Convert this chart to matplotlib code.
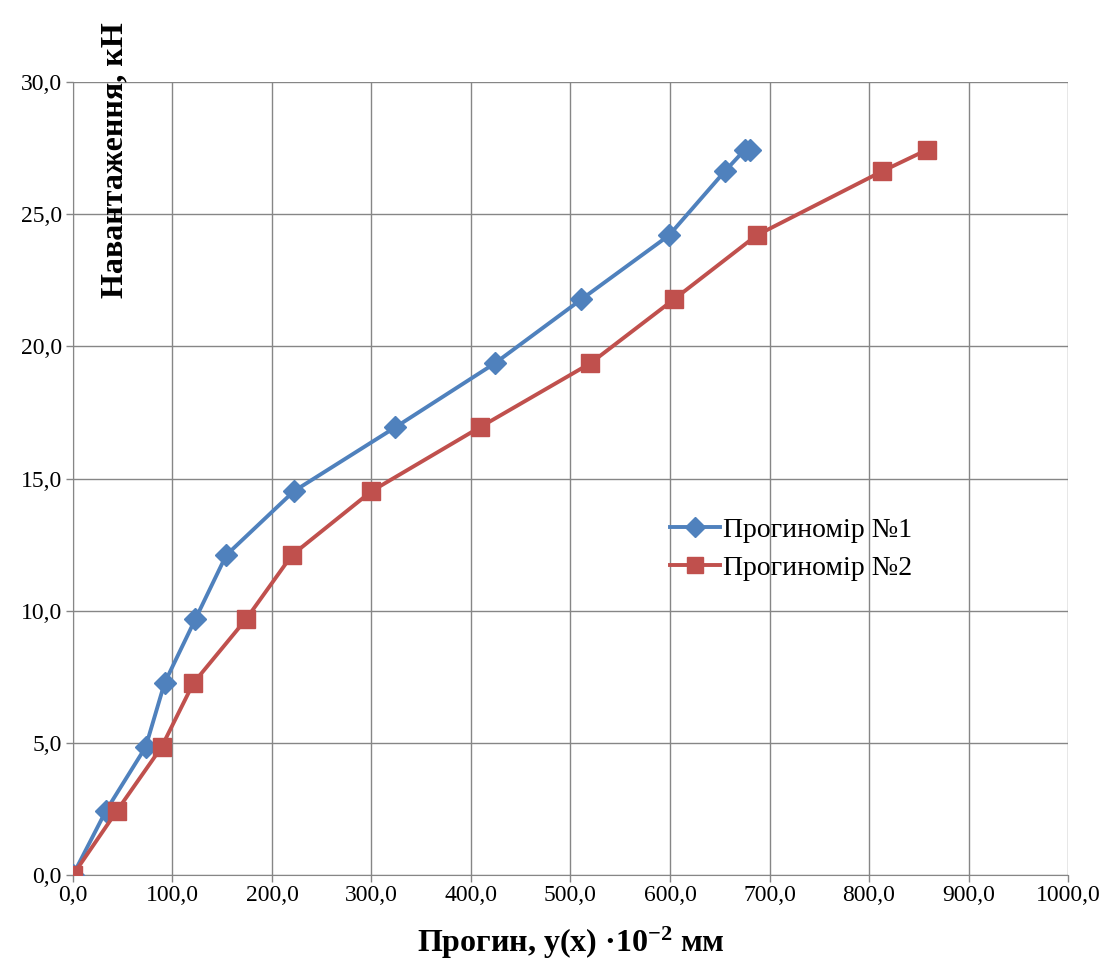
import matplotlib.pyplot as plt

plt.rcParams['font.family'] = ['Liberation Serif', 'DejaVu Serif']
plt.rcParams['mathtext.fontset'] = 'custom'
plt.rcParams['mathtext.rm'] = 'Liberation Serif:bold'
plt.rcParams['mathtext.default'] = 'rm'

# Data
load = [0.0, 2.42, 4.84, 7.26, 9.68, 12.1, 14.52, 16.94, 19.36, 21.78, 24.2, 26.62, 27.43, 27.43]
defl_1 = [0, 33, 73, 92, 123, 154, 222, 324, 424, 511, 599, 655, 675, 680]
load_2 = [0.0, 2.42, 4.84, 7.26, 9.68, 12.1, 14.52, 16.94, 19.36, 21.78, 24.2, 26.62, 27.43]
defl_2 = [0, 44, 89, 121, 174, 220, 300, 409, 520, 604, 687, 813, 858]

label_1 = 'Прогиномір №1'
label_2 = 'Прогиномір №2'

blue = '#4F81BD'
red = '#C0504D'
grid_c = '#868686'

fig = plt.figure(figsize=(11.11, 9.63), dpi=100)
ax = fig.add_axes([0.0657, 0.0914, 0.8956, 0.8234])

ax.plot(defl_1, load, color=blue, lw=2.8, marker='D', ms=11,
        mec=blue, mfc=blue, label=label_1, zorder=3)
ax.plot(defl_2, load_2, color=red, lw=2.8, marker='s', ms=13,
        mec=red, mfc=red, label=label_2, zorder=3)

ax.set_xlim(0, 1000)
ax.set_ylim(0, 30)
ax.set_xticks(range(0, 1001, 100))
ax.set_yticks(range(0, 31, 5))
ax.set_xticklabels([f'{v:.1f}'.replace('.', ',') for v in range(0, 1001, 100)])
ax.set_yticklabels([f'{v:.1f}'.replace('.', ',') for v in range(0, 31, 5)])
ax.tick_params(labelsize=17, color=grid_c, length=5, width=1)
ax.tick_params(axis='x', pad=2)
ax.tick_params(axis='y', pad=3)
ax.grid(True, color=grid_c, lw=1)
ax.set_axisbelow(True)
for s in ax.spines.values():
    s.set_visible(False)
ax.spines['left'].set_visible(True)
ax.spines['left'].set_color(grid_c)
ax.spines['bottom'].set_visible(True)
ax.spines['bottom'].set_color(grid_c)

fig.text(115 / 1111, 1 - 160 / 963, 'Навантаження, кН', rotation=90,
         ha='center', va='center', fontsize=23, fontweight='bold')
fig.text(571 / 1111, 1 - 943 / 963, 'Прогин, y(x) ·10$^{-2}$ мм',
         ha='center', va='center', fontsize=23, fontweight='bold')

ax.legend(loc='center left', bbox_to_anchor=(0.575, 0.411), frameon=False,
          fontsize=20, handlelength=1.8, labelspacing=0.45, handletextpad=0.1,
          markerscale=0.9)

fig.savefig('out.png', dpi=100)
